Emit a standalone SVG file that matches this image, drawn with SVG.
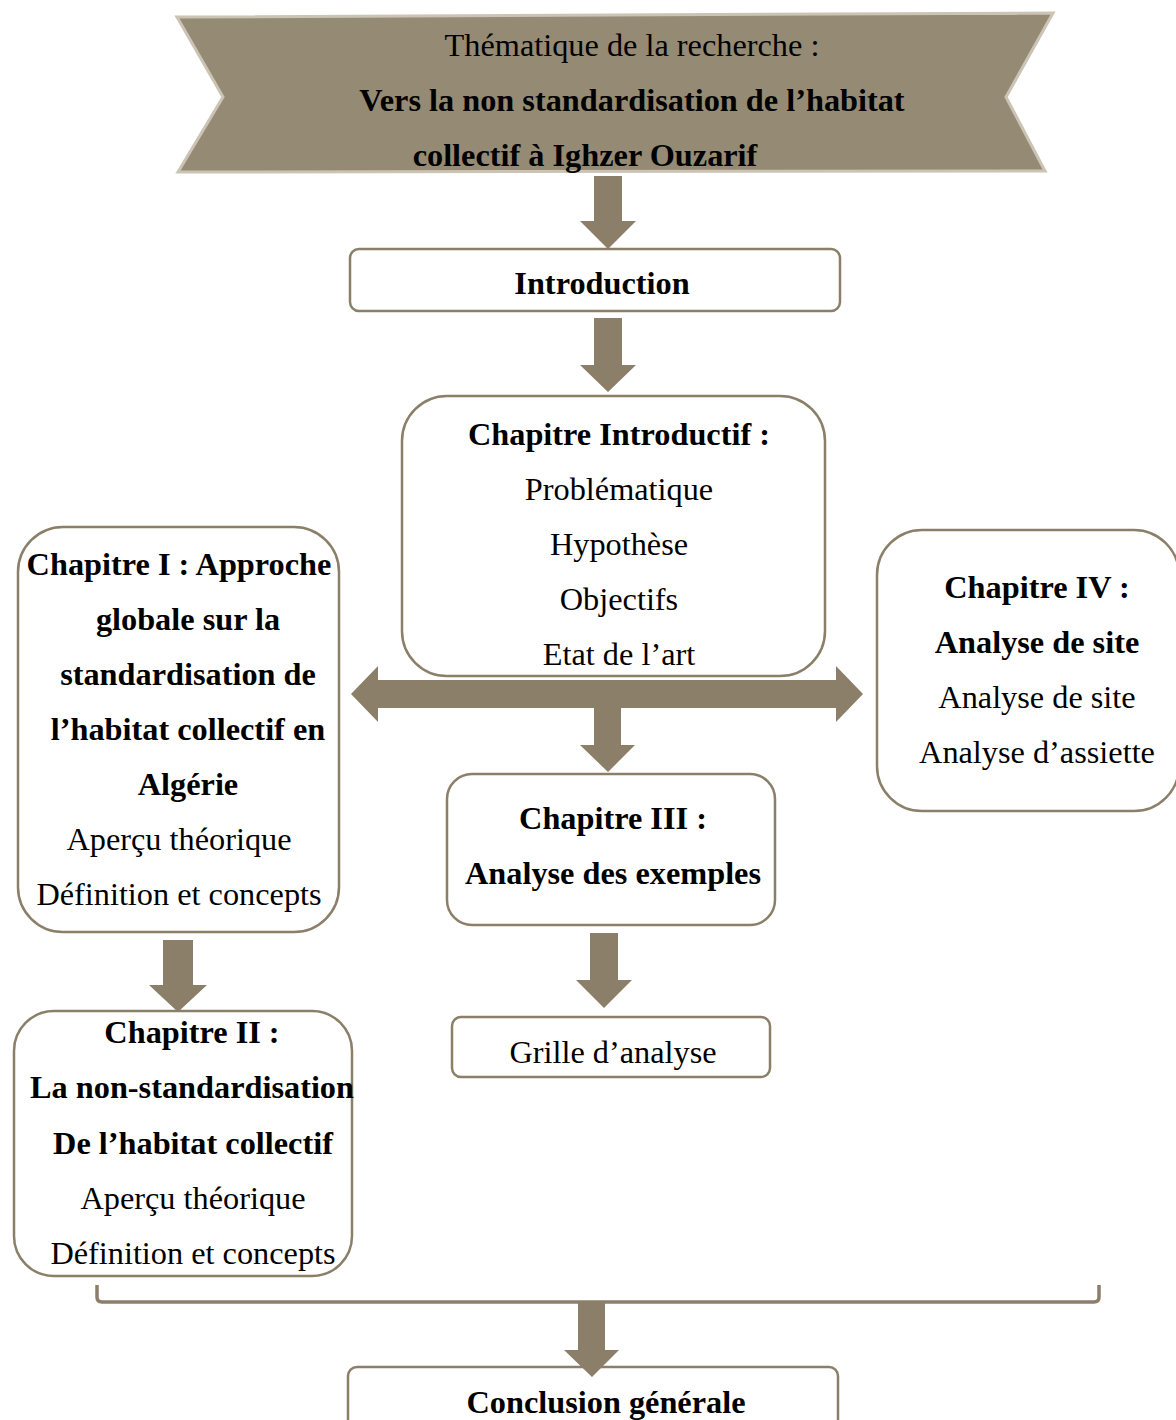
<svg xmlns="http://www.w3.org/2000/svg" width="1176" height="1420" viewBox="0 0 1176 1420">
<defs>
<style>
.box{fill:#fff;stroke:#8b7f69;stroke-width:2.5}
.arr{fill:#8b7f69}
text{font-family:"Liberation Serif","Times New Roman",serif;font-size:32.3px;fill:#000;text-anchor:middle}
.b{font-weight:bold}
</style>
</defs>
<rect width="1176" height="1420" fill="#fff"/>
<g id="banner">
<polygon points="177,17 1053,13 1006,97 1045,171 178,172 223,97" fill="#958a74" stroke="#cbc4b5" stroke-width="3"/>
<text x="632" y="56">Thématique de la recherche :</text>
<text x="632" y="111" class="b">Vers la non standardisation de l’habitat</text>
<text x="585" y="166" class="b">collectif à Ighzer Ouzarif</text>
</g>
<g id="introduction">
<rect class="box" x="350" y="249" width="490" height="62" rx="9"/>
<text x="602" y="294" class="b">Introduction</text>
</g>
<g id="chapitre-introductif">
<rect class="box" x="402" y="396" width="423" height="280" rx="45"/>
<text x="619" y="445" class="b">Chapitre Introductif :</text>
<text x="619" y="500">Problématique</text>
<text x="619" y="555">Hypothèse</text>
<text x="619" y="610">Objectifs</text>
<text x="619" y="665">Etat de l’art</text>
</g>
<g id="chapitre-1">
<rect class="box" x="18" y="527" width="321" height="405" rx="45"/>
<text x="179" y="575" class="b">Chapitre I : Approche</text>
<text x="188" y="630" class="b">globale sur la</text>
<text x="188" y="685" class="b">standardisation de</text>
<text x="188" y="740" class="b">l’habitat collectif en</text>
<text x="188" y="795" class="b">Algérie</text>
<text x="179" y="850">Aperçu théorique</text>
<text x="179" y="905">Définition et concepts</text>
</g>
<g id="chapitre-4">
<rect class="box" x="877" y="530" width="302" height="281" rx="45"/>
<text x="1037" y="598" class="b">Chapitre IV :</text>
<text x="1037" y="653" class="b">Analyse de site</text>
<text x="1037" y="708">Analyse de site</text>
<text x="1037" y="763">Analyse d’assiette</text>
</g>
<g id="chapitre-3">
<rect class="box" x="447" y="774" width="328" height="151" rx="25"/>
<text x="613" y="829" class="b">Chapitre III :</text>
<text x="613" y="884" class="b">Analyse des exemples</text>
</g>
<g id="grille">
<rect class="box" x="452" y="1017" width="318" height="60" rx="9"/>
<text x="613" y="1063">Grille d’analyse</text>
</g>
<g id="chapitre-2">
<rect class="box" x="14" y="1011" width="338" height="265" rx="40"/>
<text x="192" y="1043" class="b">Chapitre II :</text>
<text x="192" y="1098" class="b">La non-standardisation</text>
<text x="193" y="1154" class="b">De l’habitat collectif</text>
<text x="193" y="1209">Aperçu théorique</text>
<text x="193" y="1264">Définition et concepts</text>
</g>
<g id="conclusion">
<rect class="box" x="348" y="1367" width="490" height="70" rx="9"/>
<text x="606" y="1413" class="b">Conclusion générale</text>
</g>
<g id="connectors">
<polygon class="arr" points="594,176 622,176 622,221 636,221 608,249 580,221 594,221"/>
<polygon class="arr" points="594,318 622,318 622,365 636,365 608,392 580,365 594,365"/>
<polygon class="arr" points="351,694 378,666 378,680 836,680 836,666 863,694 836,722 836,708 621,708 621,745 635,745 608,772 580,745 594,745 594,708 378,708 378,722"/>
<polygon class="arr" points="163,940 193,940 193,985 207,985 178,1012 149,985 163,985"/>
<polygon class="arr" points="590,933 618,933 618,980 632,980 604,1008 576,980 590,980"/>
<path d="M97,1285 L97,1297 Q97,1302 102,1302 L1094,1302 Q1099,1302 1099,1297 L1099,1285" fill="none" stroke="#8b7f69" stroke-width="3.5"/>
<polygon class="arr" points="578,1302 605,1302 605,1350 619,1350 592,1377 564,1350 578,1350"/>
</g>
</svg>
